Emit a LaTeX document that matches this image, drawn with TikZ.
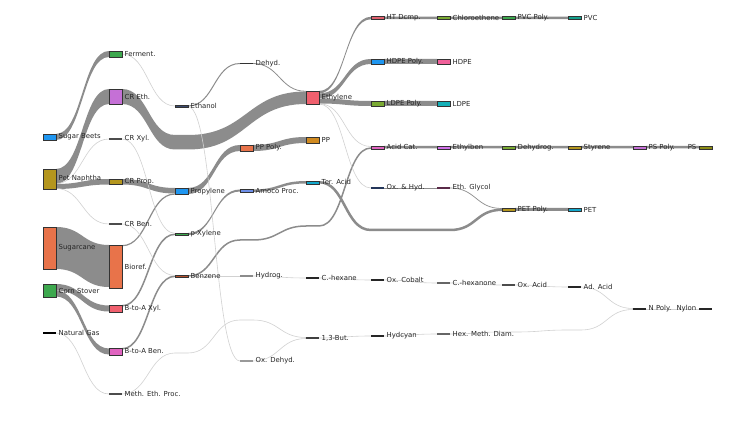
\documentclass[tikz,border=0pt]{standalone}
\usepackage{fontspec}
\setmainfont{DejaVu Sans}
\pgfdeclarelayer{bg}
\pgfsetlayers{bg,main}
\definecolor{cblue}{HTML}{1F96F0}
\definecolor{cgold}{HTML}{B4961E}
\definecolor{corange}{HTML}{E8734A}
\definecolor{cgreen}{HTML}{3DA84E}
\definecolor{corchid}{HTML}{C570D6}
\definecolor{cred}{HTML}{F0606E}
\definecolor{cpink}{HTML}{E064C0}
\definecolor{cslate}{HTML}{3C4A6E}
\definecolor{cbrown}{HTML}{B4502D}
\definecolor{ccorn}{HTML}{6E8FE8}
\definecolor{cbronze}{HTML}{D08A20}
\definecolor{ccyan}{HTML}{14A8CC}
\definecolor{cred2}{HTML}{E0606E}
\definecolor{cyg}{HTML}{7AAA32}
\definecolor{chpink}{HTML}{F0609A}
\definecolor{cteal}{HTML}{14B0B8}
\definecolor{cviolet}{HTML}{D070E8}
\definecolor{cnavy}{HTML}{24365A}
\definecolor{cplum}{HTML}{5A2A48}
\definecolor{cteal2}{HTML}{14A08C}
\definecolor{colive}{HTML}{8C8C14}
\tikzset{
  nd/.style={rectangle, draw=black!80, line width=0.35pt, minimum width=13pt, inner sep=0pt, outer sep=0pt},
  tn/.style={rectangle, draw=none, minimum width=13pt, minimum height=1.3pt, inner sep=0pt, outer sep=0pt},
  lbl/.style={font=\fontsize{6.9}{7.5}\selectfont, text=black!85, inner sep=0pt, anchor=west},
  bandc/.style={fill=black!45},
  lkl/.style={draw=black!18, line width=0.6pt},
  lkm/.style={draw=black!45, line width=#1}, lkm/.default=1pt,
}
\newcommand\SN[6]{%
  \pgfmathsetmacro\snx{#2+6.5}\pgfmathsetmacro\sny{(#3+#4)/2}\pgfmathsetmacro\snh{#4-#3}%
  \node[nd,fill=#5,minimum height=\snh pt] (#1) at (\snx,\sny) {};%
  \node[lbl] (#1-t) at ([xshift=2.5pt]#1.east) {#6};}
\newcommand\TN[5]{%
  \pgfmathsetmacro\snx{#2+6.5}%
  \node[tn,fill=#4] (#1) at (\snx,#3) {};%
  \node[lbl] (#1-t) at ([xshift=2.5pt]#1.east) {#5};}
\newcommand\BD[6]{\fill[bandc] (#1.east |- 0,#2) .. controls +(26.5,0) and +(-26.5,0) .. (#4.west |- 0,#5) -- (#4.west |- 0,#6) .. controls +(-26.5,0) and +(26.5,0) .. (#1.east |- 0,#3) -- cycle;}
\newcommand\LK[5][lkl]{\draw[#1] (#2.east |- 0,#3) .. controls +(26.5,0) and +(-26.5,0) .. (#4.west |- 0,#5);}
\begin{document}
\begin{tikzpicture}[x=1pt,y=-1pt]
\useasboundingbox (0,0) rectangle (739,422);
% column 0
\SN{sbeet}{43}{134}{140}{cblue}{Sugar Beets}
\SN{pnaph}{43}{169}{189}{cgold}{Pet Naphtha}
\SN{scane}{43}{227}{269}{corange}{Sugarcane}
\SN{cstov}{43}{284}{297}{cgreen}{Corn Stover}
\TN{ngas}{43}{333}{black}{Natural Gas}
% column 1
\SN{ferm}{109}{51}{57}{cgreen}{Ferment.}
\SN{ceth}{109}{89}{104}{corchid}{CR Eth.}
\TN{cxyl}{109}{139}{black!70}{CR Xyl.}
\SN{cprop}{109}{179}{184.5}{cgold}{CR Prop.}
\TN{cben}{109}{224}{black!70}{CR Ben.}
\SN{bioref}{109}{245}{288}{corange}{Bioref.}
\SN{baxyl}{109}{305}{312}{cred}{B-to-A Xyl.}
\SN{baben}{109}{348}{355}{cpink}{B-to-A Ben.}
\TN{meth}{109}{394}{black!70}{Meth. Eth. Proc.}
% column 2
\SN{ethanol}{175}{105}{107}{cslate}{Ethanol}
\SN{propy}{175}{188}{194.5}{cblue}{Propylene}
\SN{pxyl}{175}{232.8}{235.2}{cgreen}{p-Xylene}
\SN{benz}{175}{274.8}{277.2}{cbrown}{Benzene}
% column 3
\TN{dehyd}{240}{63.5}{black!80}{Dehyd.}
\SN{pppoly}{240}{145}{151}{corange}{PP Poly.}
\SN{amoco}{240}{189.3}{192.2}{ccorn}{Amoco Proc.}
\TN{hydrog}{240}{276}{black!45}{Hydrog.}
\TN{oxdeh}{240}{361}{black!40}{Ox. Dehyd.}
% column 4
\SN{ethyl}{306}{91}{104}{cred}{Ethylene}
\SN{pp}{306}{137}{143}{cbronze}{PP}
\SN{ter}{306}{180.8}{183.7}{ccyan}{Ter. Acid}
\TN{chex}{306}{278}{black!85}{C.-hexane}
\TN{but}{306}{338}{black!75}{1,3-But.}
% column 5
\SN{htd}{371}{16.5}{19.5}{cred2}{HT Dcmp.}
\SN{hdpep}{371}{59}{64}{cblue}{HDPE Poly.}
\SN{ldpep}{371}{101}{106}{cyg}{LDPE Poly.}
\SN{acat}{371}{145.7}{148.7}{cpink}{Acid Cat.}
\TN{oxhyd}{371}{188}{cnavy}{Ox. \& Hyd.}
\TN{oxcob}{371}{280}{black!85}{Ox. Cobalt}
\TN{hcyan}{371}{336}{black!85}{Hydcyan}
% column 6
\SN{chlor}{437}{16.5}{19.5}{cyg}{Chloroethene}
\SN{hdpe}{437}{59}{64}{chpink}{HDPE}
\SN{ldpe}{437}{101}{106}{cteal}{LDPE}
\SN{ebz}{437}{145.7}{148.7}{cviolet}{Ethylben}
\TN{eglyc}{437}{188}{cplum}{Eth. Glycol}
\TN{chexone}{437}{283}{black!60}{C.-hexanone}
\TN{hmd}{437}{334}{black!60}{Hex. Meth. Diam.}
% column 7
\SN{pvcp}{502}{16.5}{19.5}{cgreen}{PVC Poly.}
\SN{dhg}{502}{145.7}{148.7}{cyg}{Dehydrog.}
\SN{petp}{502}{208}{211.2}{cgold}{PET Poly.}
\TN{oxacid}{502}{285}{black!70}{Ox. Acid}
% column 8
\SN{pvc}{568}{16.5}{19.5}{cteal2}{PVC}
\SN{styr}{568}{145.7}{148.7}{cgold}{Styrene}
\SN{pet}{568}{208}{211.2}{ccyan}{PET}
\TN{adacid}{568}{287}{black!85}{Ad. Acid}
% column 9
\SN{psp}{633}{145.7}{148.7}{corchid}{PS Poly.}
\TN{npoly}{633}{309}{black!85}{N Poly.}
% column 10
\node[nd,fill=colive,minimum height=3pt] (ps) at (705.5,147.2) {};
\node[lbl,anchor=east] (ps-t) at ([xshift=-2.5pt]ps.west) {PS};
\node[tn,fill=black!85] (nylon) at (705.5,309) {};
\node[lbl,anchor=east] (nylon-t) at ([xshift=-2.5pt]nylon.west) {Nylon};
% links
\begin{pgfonlayer}{bg}
\fill[white] (0,0) rectangle (739,422);
\BD{sbeet}{134}{140}{ferm}{51}{57}
\BD{pnaph}{169}{184}{ceth}{89}{104}
\BD{pnaph}{184}{189}{cprop}{179}{184.5}
\BD{scane}{227}{269}{bioref}{245}{287}
\BD{cstov}{284}{290.5}{baxyl}{305.5}{311.5}
\BD{cstov}{290.5}{296.5}{baben}{348.5}{354.5}
\coordinate (dA) at (175,135);
\coordinate (dB) at (188,135);
\coordinate (dC) at (188,149.5);
\coordinate (dD) at (175,149.5);
\fill[bandc] (ceth.east |- 0,89) .. controls +(26.5,0) and +(-26.5,0) .. (dA) -- (dB)
  .. controls +(59,0) and +(-59,0) .. (ethyl.west |- 0,91.5) -- (ethyl.west |- 0,104)
  .. controls +(-59,0) and +(59,0) .. (dC) -- (dD)
  .. controls +(-26.5,0) and +(26.5,0) .. (ceth.east |- 0,104) -- cycle;
\BD{cprop}{179}{184.5}{propy}{188}{193.5}
\BD{propy}{188}{194}{pppoly}{145}{151}
\BD{pppoly}{145}{151}{pp}{137}{143}
\BD{ethyl}{91}{93.5}{htd}{16.75}{19.25}
\BD{ethyl}{93.5}{98.5}{hdpep}{59}{64}
\BD{ethyl}{98.5}{103.5}{ldpep}{101}{106}
\BD{hdpep}{59}{64}{hdpe}{59}{64}
\BD{ldpep}{101}{106}{ldpe}{101}{106}
\BD{htd}{16.75}{19.25}{chlor}{16.75}{19.25}
\BD{chlor}{16.75}{19.25}{pvcp}{16.75}{19.25}
\BD{pvcp}{16.75}{19.25}{pvc}{16.75}{19.25}
\BD{acat}{146}{148.5}{ebz}{146}{148.5}
\BD{ebz}{146}{148.5}{dhg}{146}{148.5}
\BD{dhg}{146}{148.5}{styr}{146}{148.5}
\BD{styr}{146}{148.5}{psp}{146}{148.5}
\BD{psp}{146}{148.5}{ps}{146}{148.5}
\BD{petp}{208}{211}{pet}{208}{211}
\BD{pxyl}{233}{235}{amoco}{189.5}{191.5}
\BD{amoco}{189.5}{192}{ter}{181}{183.5}
\draw[lkm=2.5pt] (ter.east) .. controls +(26.5,0) and +(-26.5,0) .. (371,230) -- (450,230)
  .. controls +(26.5,0) and +(-26.5,0) .. (petp.west |- 0,209.8);
\draw[lkm=1.5pt] (benz.east) .. controls +(26.5,0) and +(-26.5,0) .. (240,240) -- (253,240)
  .. controls +(26.5,0) and +(-26.5,0) .. (306,226) -- (319,226)
  .. controls +(26.5,0) and +(-26.5,0) .. (acat.west |- 0,148);
\LK[lkm=1pt]{ethanol}{106}{dehyd}{63.5}
\LK[lkm=0.8pt]{dehyd}{63.5}{ethyl}{91.3}
\LK[lkm=1.2pt]{bioref}{245.7}{propy}{194}
\LK[lkm=1.5pt]{baxyl}{305.8}{pxyl}{234.3}
\LK[lkm=1.5pt]{baben}{348.8}{benz}{276.3}
\LK{ferm}{54}{ethanol}{106}
\LK{pnaph}{183.5}{cxyl}{139}
\LK{pnaph}{188.5}{cben}{224}
\LK{cxyl}{139}{pxyl}{233.3}
\LK{cben}{224}{benz}{275.5}
\LK{ngas}{333}{meth}{394}
\LK{ethanol}{106.5}{oxdeh}{361}
\draw[lkl] (meth.east) .. controls +(26.5,0) and +(-26.5,0) .. (175,353) -- (188,353)
  .. controls +(26.5,0) and +(-26.5,0) .. (240,320) -- (253,320)
  .. controls +(26.5,0) and +(-26.5,0) .. (but.west |- 0,337.5);
\LK{oxdeh}{361}{but}{338.5}
\LK{benz}{276}{hydrog}{276}
\LK{hydrog}{276}{chex}{278}
\LK{chex}{278}{oxcob}{280}
\LK{oxcob}{280}{chexone}{283}
\LK{chexone}{283}{oxacid}{285}
\LK{oxacid}{285}{adacid}{287}
\LK{adacid}{287}{npoly}{308.5}
\LK{but}{338}{hcyan}{336}
\LK{hcyan}{336}{hmd}{334}
\draw[lkl] (hmd.east) .. controls +(26.5,0) and +(-26.5,0) .. (502,332) -- (515,332)
  .. controls +(26.5,0) and +(-26.5,0) .. (568,330) -- (581,330)
  .. controls +(26.5,0) and +(-26.5,0) .. (npoly.west |- 0,309.5);
\LK{npoly}{309}{nylon}{309}
\LK{ethyl}{103.7}{acat}{146.5}
\LK{ethyl}{104}{oxhyd}{188}
\LK[lkm=0.7pt]{oxhyd}{188}{eglyc}{188}
\LK[lkm=0.7pt]{eglyc}{188}{petp}{208.5}
\end{pgfonlayer}
\end{tikzpicture}
\end{document}
